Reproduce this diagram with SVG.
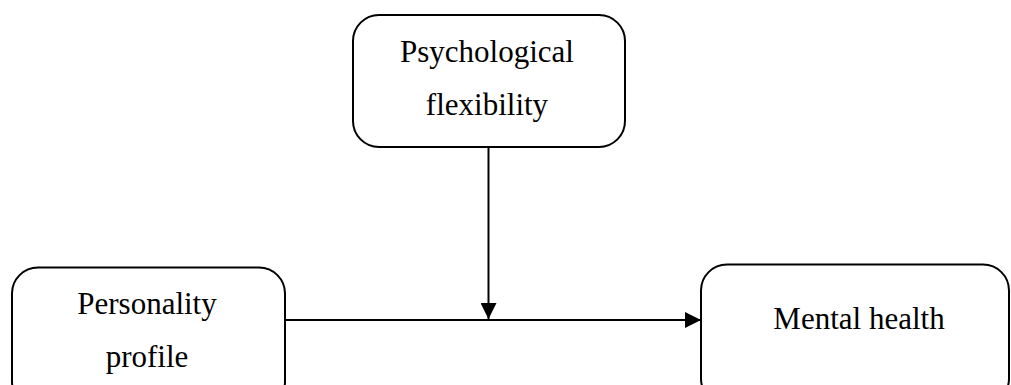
<svg xmlns="http://www.w3.org/2000/svg" width="1011" height="385" viewBox="0 0 1011 385">
<style>
.box{fill:#fff;stroke:#000;stroke-width:2}
.lbl{font-family:"Liberation Serif","Times New Roman",serif;font-size:31px;fill:#000;text-anchor:middle}
.edge{stroke:#000;stroke-width:2;fill:none}
</style>
<defs>
<marker id="arr" markerWidth="16" markerHeight="16" refX="16" refY="8" orient="auto" markerUnits="userSpaceOnUse">
<path d="M0,0 L16,8 L0,16 Z" fill="#000"/>
</marker>
</defs>
<rect width="1011" height="385" fill="#fff"/>
<g id="connectors">
<line class="edge" x1="285" y1="320" x2="701" y2="320" marker-end="url(#arr)"/>
<line class="edge" x1="488.5" y1="147" x2="488.5" y2="319" marker-end="url(#arr)"/>
</g>
<g id="node-psych">
<rect class="box" x="353" y="15" width="272" height="132" rx="26"/>
<text class="lbl" x="487" y="62">Psychological</text>
<text class="lbl" x="487" y="115">flexibility</text>
</g>
<g id="node-personality">
<rect class="box" x="12" y="267.5" width="273" height="140" rx="26"/>
<text class="lbl" x="147" y="314">Personality</text>
<text class="lbl" x="147" y="367">profile</text>
</g>
<g id="node-mental">
<rect class="box" x="701" y="264.5" width="308" height="140" rx="26"/>
<text class="lbl" x="859" y="329">Mental health</text>
</g>
</svg>
